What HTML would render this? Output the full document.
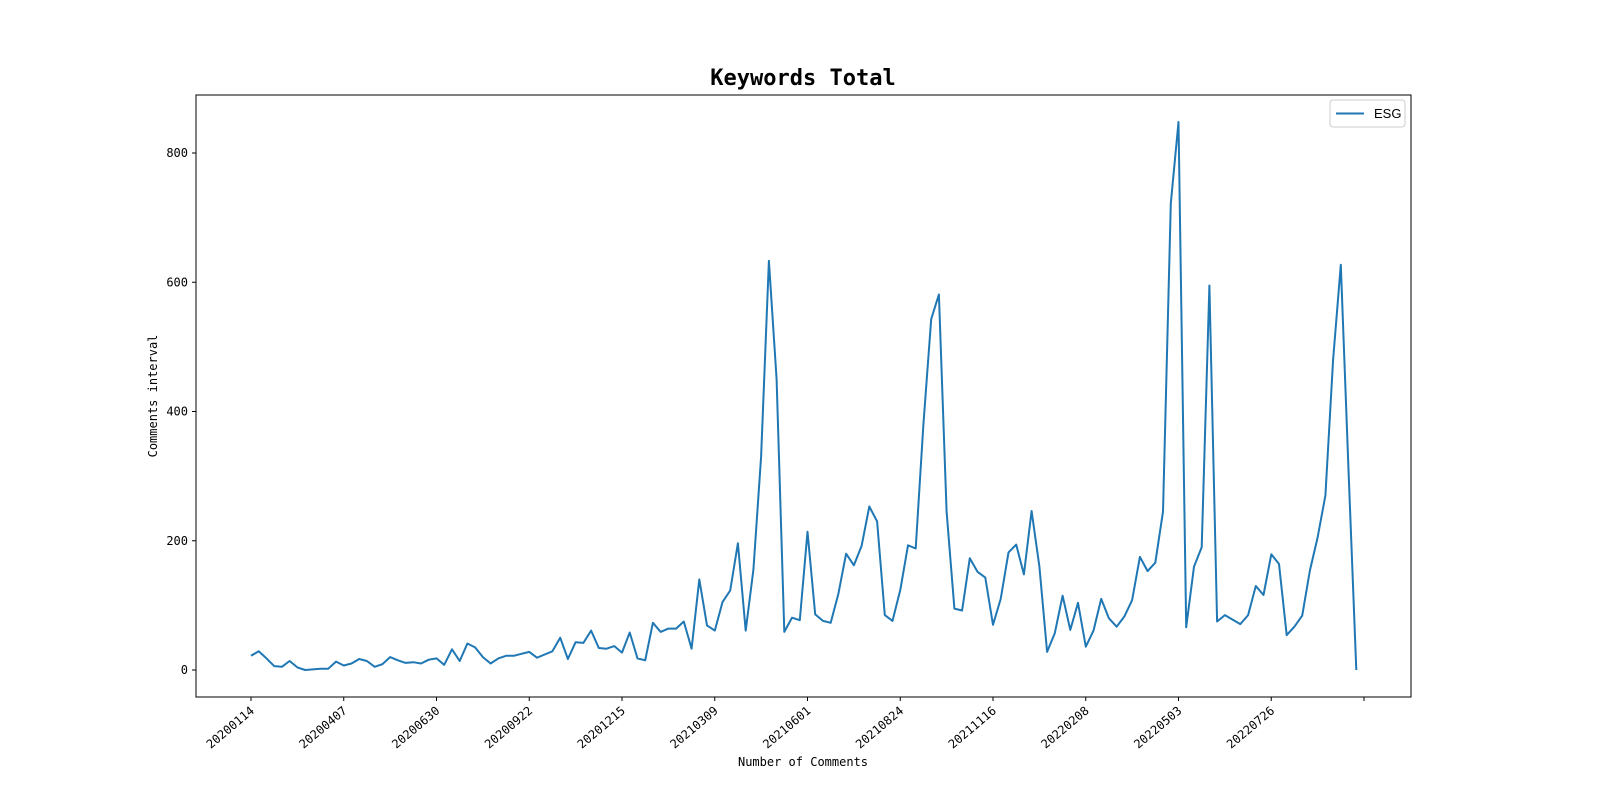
<!DOCTYPE html>
<html><head><meta charset="utf-8"><style>
body{margin:0;background:#fff}
svg{display:block;font-family:"DejaVu Sans Mono","Liberation Mono","Noto Sans CJK SC",monospace}
</style></head><body>
<svg id="chart" width="1600" height="800" xmlns="http://www.w3.org/2000/svg">
<rect width="1600" height="800" fill="#fff"/>
<text x="803" y="85" text-anchor="middle" font-size="22" font-weight="bold">Keywords Total</text>
<g id="axes"></g>
<rect x="196" y="95" width="1215" height="602" fill="none" stroke="#000" stroke-width="1"/>
<text x="803" y="766" text-anchor="middle" font-size="12">Number of Comments</text>
<text transform="translate(157,396) rotate(-90)" text-anchor="middle" font-size="12">Comments interval</text>
<g>
<rect x="1330" y="100" width="75" height="27" rx="3" fill="#fff" stroke="#ccc"/>
<line x1="1336" y1="113.5" x2="1364" y2="113.5" stroke="#1f77b4" stroke-width="2"/>
<text x="1374" y="118" font-size="13" font-family="Liberation Sans, sans-serif">ESG</text>
</g>
</svg>
<script>
const values=[22,29,18,6,5,14,4,0,1,2,2,13,7,10,17,14,5,9,20,15,11,12,10,16,18,8,32,14,41,35,20,10,18,22,22,25,28,19,24,29,50,17,43,42,61,34,33,37,27,58,18,15,73,59,64,64,75,33,140,69,61,105,123,196,61,155,330,633,450,59,81,77,214,86,76,73,118,180,162,192,253,230,85,76,124,193,188,380,543,581,245,95,92,173,152,143,70,110,182,194,148,246,160,28,57,115,62,104,36,61,110,80,67,83,108,175,153,166,245,722,848,66,160,190,595,75,85,78,71,85,130,116,179,164,54,67,84,154,205,270,480,627,310,0];
const xTickLabels=["20200114","20200407","20200630","20200922","20201215","20210309","20210601","20210824","20211116","20220208","20220503","20220726",""];
const yTicks=[0,200,400,600,800];
const ns="http://www.w3.org/2000/svg";
const sx=i=>251+i*(1364-251)/144;
const sy=v=>670-v*(670-153)/800;
const g=document.getElementById('axes');
function mk(t,a){const e=document.createElementNS(ns,t);for(const k in a)e.setAttribute(k,a[k]);return e;}
yTicks.forEach(v=>{
  const y=sy(v);
  const l=mk('line',{x1:192,x2:196,y1:y,y2:y,stroke:'#000'});
  
  
  g.appendChild(l);
  const t=mk('text',{x:188,y:y+4,'text-anchor':'end','font-size':12});
  
  
  t.textContent=v;g.appendChild(t);
});
xTickLabels.forEach((s,k)=>{
  const x=sx(k*12);
  const l=mk('line',{x1:x,x2:x,y1:697,y2:701,stroke:'#000'});
  
  
  g.appendChild(l);
  if(s){
    const t=mk('text',{transform:`translate(${x+4},${712}) rotate(-40)`,'text-anchor':'end','font-size':12});
    
    
    t.textContent=s;g.appendChild(t);
  }
});
const p=mk('polyline',{points:values.map((v,i)=>sx(i).toFixed(1)+','+sy(v).toFixed(1)).join(' '),fill:'none',stroke:'#1f77b4','stroke-width':2,'stroke-linejoin':'round'});


g.appendChild(p);
</script>
</body></html>
